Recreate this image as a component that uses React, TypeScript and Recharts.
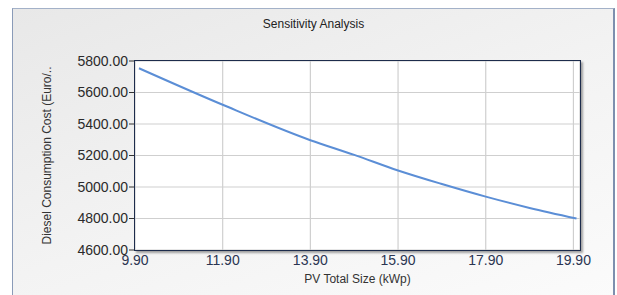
import React from 'react';
import { LineChart, Line, XAxis, YAxis, CartesianGrid } from 'recharts';

const pvSize = [9.99, 11.9, 13.9, 14.9, 15.9, 16.9, 17.9, 18.9, 19.97];
const dieselCost = [5754, 5522, 5297, 5204, 5105, 5019, 4939, 4867, 4800];
const xTicks = [9.9, 11.9, 13.9, 15.9, 17.9, 19.9];
const yTicks = [4600, 4800, 5000, 5200, 5400, 5600, 5800];
const title = 'Sensitivity Analysis';
const xTitle = 'PV Total Size (kWp)';
const yTitle = 'Diesel Consumption Cost (Euro/..';

const data = pvSize.map((x, i) => ({ x, y: dieselCost[i] }));

const FONT = '"Liberation Sans", Arial, sans-serif';

const W = 617;
const H = 295;
const M = { top: 61, right: 37, bottom: 0, left: 0 };
const YW = 135;
const XH = 45;

export default function App() {
  const plotLeft = M.left + YW;
  const plotTop = M.top;
  const plotW = W - M.right - plotLeft;
  const plotH = H - M.bottom - XH - plotTop;
  return (
    <div style={{ position: 'absolute', left: 0, top: 0, width: W, height: H, background: '#ffffff', overflow: 'hidden', fontFamily: FONT }}>
      <div
        style={{
          position: 'absolute',
          left: 12,
          top: 8,
          width: 600,
          height: 320,
          borderTop: '1px solid #a3b1c8',
          borderLeft: '1px solid #8a9bb8',
          borderRight: '2px solid #7d8fae',
          background: 'linear-gradient(160deg, #e8e8e8 0%, #f3f3f3 50%, #fcfcfc 100%)',
        }}
      />
      <div
        style={{
          position: 'absolute',
          left: 12,
          width: 603,
          top: 17,
          textAlign: 'center',
          fontSize: 12,
          color: '#222',
          fontFamily: FONT,
        }}
      >
        {title}
      </div>
      <div style={{ position: 'absolute', left: 0, top: 0 }}>
        <LineChart width={W} height={H} data={data} margin={M}>
          <CartesianGrid stroke="#cfcfcf" strokeWidth={1.2} fill="#ffffff" />
          <XAxis
            dataKey="x"
            type="number"
            domain={[9.9, 20.05]}
            ticks={xTicks}
            allowDataOverflow
            axisLine={false}
            tickLine={false}
            tickSize={0}
            tickMargin={5}
            height={XH}
            interval={0}
            tickFormatter={(v: number) => v.toFixed(2)}
            tick={{ fontSize: 14, fill: '#2b3552', fontFamily: FONT }}
            label={{
              content: (p: any) => {
                const vb = p.viewBox;
                return (
                  <text x={vb.x + vb.width / 2} y={vb.y + 33} textAnchor="middle" fontSize={12} fill="#333" fontFamily={FONT}>
                    {xTitle}
                  </text>
                );
              },
            }}
          />
          <YAxis
            type="number"
            domain={[4600, 5800]}
            ticks={yTicks}
            width={YW}
            axisLine={false}
            tickLine={{ stroke: '#333', strokeWidth: 1 }}
            tickSize={6}
            tickMargin={1}
            interval={0}
            tickFormatter={(v: number) => v.toFixed(2)}
            tick={{ fontSize: 14, fill: '#2a2a2a', fontFamily: FONT }}
            label={{
              content: (p: any) => {
                const vb = p.viewBox;
                const cx = vb.x + 47;
                const cy = vb.y + vb.height / 2;
                return (
                  <text
                    x={cx}
                    y={cy}
                    textAnchor="middle"
                    dominantBaseline="central"
                    fontSize={12}
                    fill="#333"
                    fontFamily={FONT}
                    transform={`rotate(-90 ${cx} ${cy})`}
                  >
                    {yTitle}
                  </text>
                );
              },
            }}
          />
          <Line
            type="monotone"
            dataKey="y"
            stroke="#5b8ed6"
            strokeWidth={2}
            dot={false}
            activeDot={false}
            isAnimationActive={false}
          />
        </LineChart>
      </div>
      <div
        style={{
          position: 'absolute',
          left: plotLeft - 1,
          top: plotTop - 1,
          width: plotW,
          height: plotH,
          border: '1.5px solid #1d2c4c',
          boxShadow: '2px 2px 2px rgba(0,0,0,0.35)',
          pointerEvents: 'none',
        }}
      />
    </div>
  );
}
